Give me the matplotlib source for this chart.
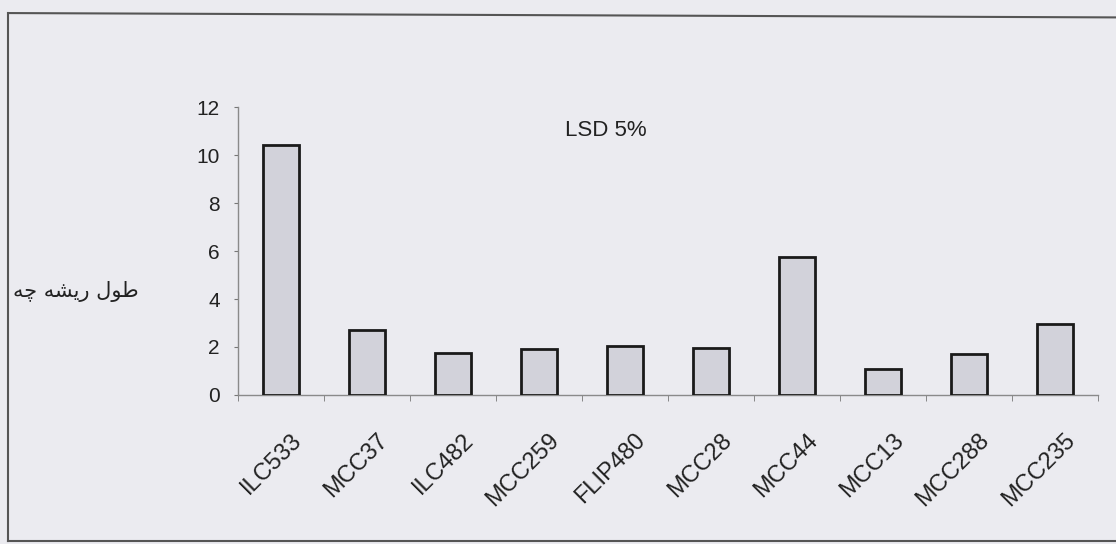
import numpy as np
import matplotlib
matplotlib.use("Agg")
import matplotlib.pyplot as plt
from matplotlib.lines import Line2D
from matplotlib.transforms import ScaledTranslation

# data
genotypes = ['ILC533', 'MCC37', 'ILC482', 'MCC259', 'FLIP480',
             'MCC28', 'MCC44', 'MCC13', 'MCC288', 'MCC235']
root_length = [10.4, 2.7, 1.75, 1.9, 2.05, 1.95, 5.75, 1.1, 1.7, 2.95]
y_ticks = [0, 2, 4, 6, 8, 10, 12]
y_label = 'طول ریشه چه'
note = 'LSD 5%'

# minimal Persian shaping, matplotlib does not join Arabic letters by itself
FORMS = {
    'ط': (0xFEC1, 0xFEC2, 0xFEC3, 0xFEC4),
    'و': (0xFEED, 0xFEEE, None, None),
    'ل': (0xFEDD, 0xFEDE, 0xFEDF, 0xFEE0),
    'ر': (0xFEAD, 0xFEAE, None, None),
    'ی': (0xFBFC, 0xFBFD, 0xFBFE, 0xFBFF),
    'ش': (0xFEB5, 0xFEB6, 0xFEB7, 0xFEB8),
    'ه': (0xFEE9, 0xFEEA, 0xFEEB, 0xFEEC),
    'چ': (0xFB7A, 0xFB7B, 0xFB7C, 0xFB7D),
}


def dual(ch):
    return ch in FORMS and FORMS[ch][2] is not None


def shape(text):
    out = []
    for i, ch in enumerate(text):
        if ch not in FORMS:
            out.append(ch)
            continue
        prev = text[i - 1] if i > 0 else ''
        nxt = text[i + 1] if i + 1 < len(text) else ''
        join_prev = dual(prev)
        join_next = dual(ch) and nxt in FORMS
        if join_prev and join_next:
            k = 3
        elif join_prev:
            k = 1
        elif join_next:
            k = 2
        else:
            k = 0
        out.append(chr(FORMS[ch][k]))
    return ''.join(reversed(out))


plt.rcParams['font.family'] = ['Liberation Sans', 'DejaVu Sans']

bg = '#ebebf0'
fig = plt.figure(figsize=(11.16, 5.44), dpi=100, facecolor=bg)
ax = fig.add_axes([0.2133, 0.2739, 0.7706, 0.5294])
ax.set_facecolor(bg)

x = np.arange(len(genotypes))
ax.bar(x, root_length, width=0.41, color='#d2d2da', edgecolor='#1a1a1a',
       linewidth=2.0, zorder=3)

ax.set_xlim(-0.5, len(genotypes) - 0.5)
ax.set_ylim(0, 12)
ax.set_yticks(y_ticks)
ax.tick_params(axis='y', labelsize=15, length=3, pad=10, color='#777777',
               labelcolor='#222222')

# category labels at bar centres, tick marks between categories (Excel style)
ax.set_xticks(x, genotypes)
ax.set_xticks(np.arange(-0.5, len(genotypes), 1), minor=True)
ax.tick_params(axis='x', which='major', length=0, pad=0, labelsize=17,
               labelcolor='#222222')
ax.tick_params(axis='x', which='minor', length=4, color='#777777')
offset = ScaledTranslation(0.17, -0.42, fig.dpi_scale_trans)
for lbl in ax.get_xticklabels():
    lbl.set_rotation(45)
    lbl.set_rotation_mode('anchor')
    lbl.set_ha('right')
    lbl.set_va('center')
    lbl.set_transform(lbl.get_transform() + offset)

for side in ['top', 'right']:
    ax.spines[side].set_visible(False)
for side in ['left', 'bottom']:
    ax.spines[side].set_color('#8a8a8a')
    ax.spines[side].set_linewidth(1.0)

ax.text(0.380, 0.917, note, transform=ax.transAxes, ha='left', va='center',
        fontsize=16, color='#222222')

fig.text(0.0675, 0.465, shape(y_label), ha='center', va='center',
         fontsize=15, family=['DejaVu Sans'], color='#222222')

# scanned frame: left, top and bottom edges only
frame = dict(color='#555555', linewidth=1.5, transform=fig.transFigure)
fig.add_artist(Line2D([0.0072, 0.0072], [0.0055, 0.976], **frame))
fig.add_artist(Line2D([0.0072, 1.0], [0.976, 0.968], **frame))
fig.add_artist(Line2D([0.0072, 1.0], [0.0055, 0.0055], **frame))

fig.savefig('out.png', dpi=100, facecolor=bg)
